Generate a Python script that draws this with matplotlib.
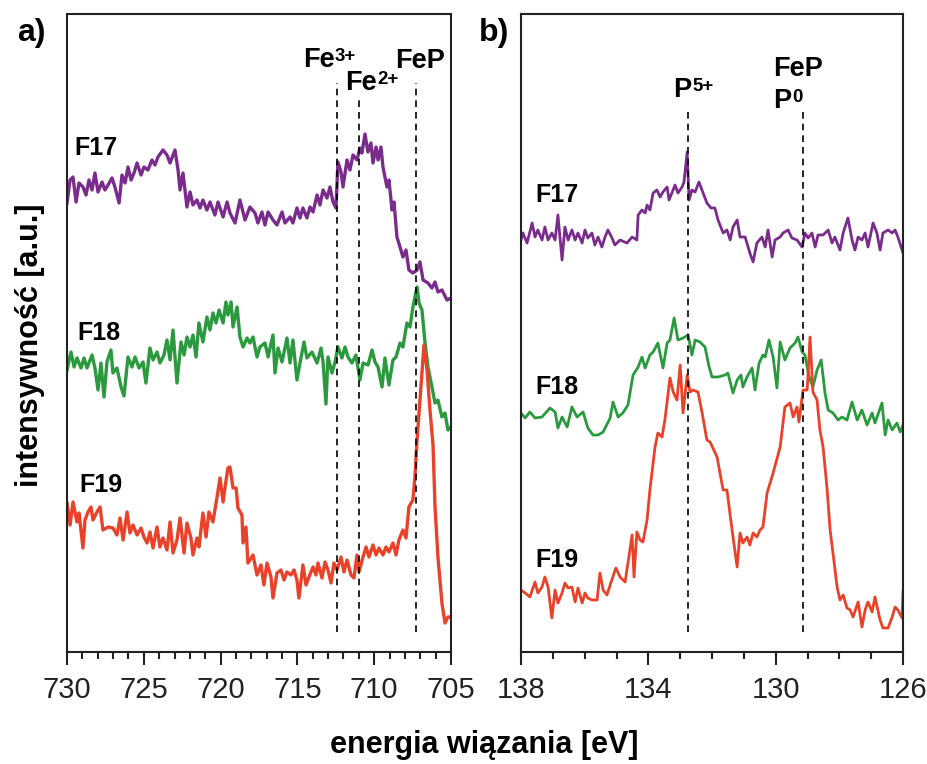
import matplotlib
matplotlib.use("Agg")
import matplotlib.pyplot as plt
from matplotlib.ticker import MultipleLocator, FixedLocator

plt.rcParams['font.family'] = ['Liberation Sans', 'DejaVu Sans']

# ---------------- Fe 2p region (panel a) ----------------
fe_f17_E = [730.00, 729.80, 729.61, 729.41, 729.22, 728.96, 728.76, 728.57, 728.37, 728.18, 727.98, 727.72,
            727.53, 727.33, 727.07, 726.88, 726.61, 726.42, 726.22, 726.03, 725.83, 725.64, 725.44, 725.18,
            724.99, 724.73, 724.47, 724.27, 724.08, 723.75, 723.49, 723.29, 722.97, 722.77, 722.64, 722.45,
            722.19, 721.99, 721.80, 721.54, 721.34, 721.15, 720.89, 720.69, 720.37, 720.17, 719.84, 719.58,
            719.39, 719.06, 718.74, 718.41, 718.09, 717.76, 717.57, 717.31, 717.11, 716.91, 716.59, 716.33,
            716.00, 715.81, 715.48, 715.29, 715.03, 714.83, 714.64, 714.38, 714.18, 713.98, 713.72, 713.53,
            713.33, 713.07, 712.88, 712.68, 712.49, 712.36, 712.16, 712.03, 711.77, 711.58, 711.38, 711.12,
            710.93, 710.80, 710.60, 710.41, 710.21, 710.08, 709.88, 709.75, 709.56, 709.43, 709.17, 709.04,
            708.84, 708.71, 708.52, 708.32, 708.13, 707.93, 707.74, 707.48, 707.21, 707.02, 706.82, 706.50,
            706.24, 706.04, 705.85, 705.59, 705.26, 705.00]
fe_f17_I = [449, 472, 475, 450, 469, 465, 457, 472, 462, 479, 460, 470,
            462, 467, 474, 465, 449, 477, 469, 485, 472, 479, 489, 477,
            485, 482, 492, 487, 495, 502, 497, 489, 502, 482, 462, 479,
            445, 460, 447, 452, 444, 452, 442, 450, 437, 450, 435, 450,
            439, 429, 452, 432, 445, 439, 429, 440, 427, 440, 432, 427,
            440, 429, 435, 429, 444, 434, 444, 434, 445, 440, 457, 447,
            462, 454, 465, 450, 444, 490, 480, 465, 492, 482, 497, 492,
            504, 499, 518, 500, 509, 489, 505, 492, 505, 485, 465, 472,
            442, 450, 415, 405, 395, 402, 382, 379, 382, 390, 372, 369,
            364, 370, 360, 362, 352, 354]

fe_f18_E = [730.00, 729.74, 729.54, 729.35, 729.09, 728.89, 728.70, 728.37, 728.18, 727.98, 727.79, 727.59,
            727.40, 727.14, 727.01, 726.75, 726.48, 726.29, 726.03, 725.77, 725.57, 725.31, 725.05, 724.86,
            724.60, 724.40, 724.14, 723.95, 723.69, 723.49, 723.29, 723.10, 722.84, 722.58, 722.38, 722.19,
            721.99, 721.80, 721.60, 721.41, 721.15, 720.89, 720.69, 720.50, 720.30, 720.10, 719.84, 719.65,
            719.52, 719.32, 719.19, 718.93, 718.74, 718.54, 718.28, 718.09, 717.89, 717.63, 717.44, 717.11,
            716.91, 716.59, 716.46, 716.26, 716.00, 715.68, 715.48, 715.29, 715.03, 714.83, 714.57, 714.38,
            714.05, 713.72, 713.46, 713.33, 713.14, 713.01, 712.75, 712.55, 712.36, 712.10, 711.90, 711.71,
            711.45, 711.19, 710.93, 710.73, 710.40, 710.14, 709.95, 709.75, 709.49, 709.30, 709.04, 708.78,
            708.58, 708.32, 708.13, 707.87, 707.67, 707.48, 707.21, 707.08, 706.89, 706.69, 706.50, 706.24,
            706.04, 705.85, 705.59, 705.39, 705.20, 705.00]
fe_f18_I = [282, 300, 285, 294, 284, 294, 284, 297, 284, 262, 289, 255,
            290, 302, 279, 284, 265, 256, 295, 285, 295, 284, 290, 269,
            304, 292, 300, 289, 297, 312, 292, 322, 269, 310, 297, 315,
            305, 317, 295, 329, 310, 335, 322, 339, 329, 342, 329, 350,
            337, 350, 325, 345, 315, 305, 314, 309, 315, 295, 305, 309,
            295, 317, 279, 304, 290, 314, 289, 312, 272, 289, 310, 294,
            300, 289, 304, 290, 248, 295, 279, 290, 305, 294, 305, 295,
            289, 297, 272, 289, 287, 302, 290, 285, 265, 294, 267, 292,
            295, 309, 305, 329, 325, 345, 365, 349, 342, 309, 285, 265,
            249, 252, 235, 239, 222, 225]

fe_f19_E = [730.00, 729.80, 729.61, 729.35, 729.22, 728.96, 728.83, 728.63, 728.44, 728.31, 728.05, 727.85,
            727.66, 727.33, 727.01, 726.75, 726.55, 726.35, 726.09, 725.90, 725.70, 725.44, 725.18, 724.99,
            724.79, 724.60, 724.40, 724.14, 723.95, 723.75, 723.49, 723.29, 723.10, 722.84, 722.64, 722.38,
            722.19, 721.93, 721.80, 721.54, 721.41, 721.15, 720.95, 720.76, 720.50, 720.24, 720.04, 719.84,
            719.71, 719.52, 719.39, 719.19, 718.99, 718.87, 718.61, 718.54, 718.35, 718.22, 717.89, 717.63,
            717.37, 717.18, 716.98, 716.72, 716.59, 716.33, 716.07, 715.87, 715.68, 715.42, 715.22, 715.03,
            714.90, 714.64, 714.44, 714.25, 713.98, 713.79, 713.66, 713.40, 713.20, 713.01, 712.81, 712.62,
            712.42, 712.16, 711.97, 711.77, 711.51, 711.32, 711.12, 710.99, 710.73, 710.53, 710.34, 710.08,
            709.88, 709.69, 709.43, 709.23, 709.04, 708.78, 708.58, 708.39, 708.13, 707.93, 707.74, 707.48,
            707.35, 707.21, 707.02, 706.76, 706.56, 706.37, 706.17, 706.04, 705.85, 705.59, 705.39, 705.20,
            705.00]
fe_f19_I = [149, 127, 150, 130, 139, 104, 132, 140, 145, 132, 140, 145,
            122, 125, 124, 117, 134, 112, 140, 119, 127, 117, 124, 115,
            109, 120, 104, 125, 105, 114, 102, 130, 99, 112, 134, 99,
            129, 114, 97, 114, 105, 139, 115, 140, 130, 154, 174, 150,
            165, 184, 185, 164, 164, 144, 137, 109, 125, 89, 97, 77,
            87, 67, 89, 75, 54, 79, 82, 72, 80, 77, 82, 72,
            54, 87, 67, 75, 85, 77, 89, 74, 90, 82, 69, 89,
            82, 95, 80, 92, 77, 74, 97, 80, 95, 105, 95, 107,
            97, 104, 97, 105, 100, 109, 97, 112, 122, 114, 145, 152,
            175, 212, 252, 307, 282, 242, 207, 145, 95, 49, 29, 35,
            35]

# ---------------- P 2p region (panel b) ----------------
p_f17_E = [138.00, 137.94, 137.81, 137.65, 137.56, 137.47, 137.34, 137.25, 137.15, 137.03, 136.93, 136.84,
           136.71, 136.62, 136.52, 136.40, 136.30, 136.21, 136.08, 135.99, 135.90, 135.77, 135.68, 135.58,
           135.46, 135.36, 135.27, 135.14, 135.05, 134.89, 134.67, 134.51, 134.36, 134.32, 134.20, 134.10,
           134.04, 133.95, 133.85, 133.73, 133.63, 133.54, 133.41, 133.35, 133.26, 133.16, 133.07, 132.94,
           132.88, 132.78, 132.72, 132.63, 132.53, 132.41, 132.28, 132.16, 132.03, 131.91, 131.81, 131.65,
           131.53, 131.43, 131.34, 131.21, 131.12, 130.96, 130.81, 130.71, 130.59, 130.43, 130.33, 130.24,
           130.11, 130.02, 129.86, 129.77, 129.61, 129.49, 129.33, 129.17, 129.08, 128.98, 128.86, 128.76,
           128.67, 128.51, 128.35, 128.23, 128.14, 127.98, 127.88, 127.73, 127.60, 127.51, 127.41, 127.29,
           127.19, 127.10, 126.94, 126.82, 126.72, 126.63, 126.47, 126.34, 126.25, 126.16, 126.00]
p_f17_I = [412, 419, 409, 429, 415, 422, 412, 425, 412, 419, 412, 437,
           392, 425, 412, 422, 412, 419, 409, 422, 414, 419, 407, 415,
           405, 415, 422, 414, 407, 412, 409, 415, 412, 437, 442, 439,
           447, 442, 459, 462, 455, 460, 465, 452, 459, 467, 459, 465,
           470, 500, 452, 462, 460, 470, 459, 449, 444, 444, 432, 419,
           422, 412, 425, 432, 415, 415, 399, 390, 409, 415, 405, 422,
           395, 412, 415, 419, 422, 414, 412, 405, 419, 414, 419, 405,
           417, 417, 422, 409, 415, 402, 419, 434, 412, 402, 415, 412,
           419, 405, 429, 419, 402, 419, 422, 419, 422, 415, 399]

p_f18_E = [138.00, 137.87, 137.72, 137.56, 137.34, 137.09, 136.93, 136.84, 136.71, 136.55, 136.40, 136.24,
           136.05, 135.90, 135.74, 135.58, 135.42, 135.20, 135.11, 134.95, 134.80, 134.64, 134.48, 134.32,
           134.20, 134.10, 133.95, 133.85, 133.70, 133.54, 133.41, 133.32, 133.19, 133.07, 132.91, 132.75,
           132.63, 132.53, 132.38, 132.22, 132.09, 132.00, 131.81, 131.59, 131.50, 131.34, 131.21, 131.09,
           131.03, 130.90, 130.74, 130.65, 130.52, 130.40, 130.33, 130.21, 130.08, 129.96, 129.86, 129.71,
           129.55, 129.39, 129.30, 129.17, 129.08, 128.95, 128.83, 128.70, 128.57, 128.45, 128.35, 128.20,
           128.04, 127.92, 127.76, 127.60, 127.44, 127.29, 127.13, 126.97, 126.88, 126.66, 126.56, 126.47,
           126.34, 126.19, 126.09, 126.00]
p_f18_I = [239, 234, 240, 234, 235, 244, 240, 224, 235, 225, 245, 235,
           240, 224, 217, 217, 220, 234, 250, 235, 239, 247, 277, 285,
           295, 284, 297, 300, 309, 284, 309, 312, 334, 312, 314, 317,
           297, 312, 310, 305, 285, 275, 275, 277, 279, 259, 272, 277,
           265, 275, 284, 262, 289, 297, 295, 312, 295, 264, 310, 292,
           304, 309, 315, 300, 297, 275, 265, 282, 292, 259, 242, 239,
           232, 235, 232, 250, 232, 242, 227, 239, 229, 249, 217, 232,
           222, 229, 220, 227]

p_f19_E = [138.00, 137.87, 137.72, 137.56, 137.47, 137.34, 137.25, 137.15, 137.03, 136.93, 136.84, 136.71,
           136.62, 136.52, 136.40, 136.30, 136.21, 136.08, 135.99, 135.90, 135.77, 135.61, 135.52, 135.42,
           135.30, 135.20, 135.02, 134.89, 134.73, 134.64, 134.51, 134.45, 134.36, 134.26, 134.17, 134.04,
           133.95, 133.79, 133.70, 133.57, 133.48, 133.32, 133.22, 133.10, 133.00, 132.91, 132.78, 132.69,
           132.60, 132.44, 132.31, 132.16, 132.06, 131.84, 131.75, 131.65, 131.53, 131.43, 131.34, 131.21,
           131.12, 131.03, 130.90, 130.81, 130.71, 130.59, 130.49, 130.40, 130.27, 130.08, 129.86, 129.71,
           129.55, 129.45, 129.33, 129.27, 129.14, 129.01, 128.92, 128.83, 128.70, 128.61, 128.51, 128.39,
           128.29, 128.20, 128.07, 127.98, 127.88, 127.76, 127.66, 127.57, 127.41, 127.29, 127.19, 127.10,
           126.97, 126.88, 126.72, 126.63, 126.47, 126.34, 126.25, 126.16, 126.03, 126.00]
p_f19_I = [62, 59, 55, 70, 59, 65, 75, 65, 34, 62, 49, 59,
           69, 64, 65, 50, 64, 49, 59, 54, 52, 52, 79, 62,
           57, 67, 84, 75, 70, 89, 117, 75, 120, 112, 110, 132,
           162, 205, 219, 215, 232, 274, 260, 252, 287, 239, 277, 260,
           262, 260, 239, 212, 210, 195, 179, 162, 162, 137, 115, 85,
           119, 109, 115, 107, 119, 115, 122, 125, 159, 179, 205, 245,
           249, 235, 245, 230, 262, 262, 315, 260, 252, 222, 205, 165,
           122, 99, 65, 52, 57, 44, 42, 35, 50, 25, 42, 50,
           40, 55, 32, 24, 24, 35, 45, 42, 34, 60]

sample_names = ['F17', 'F18', 'F19']
colors = ['#7a2c8c', '#2b9a3e', '#ea4129']

fe_peak_E = [712.4, 711.0, 707.3]
p_peak_E = [132.75, 129.15]
b_ticks = [138, 134, 130, 126]

W, H = 928, 764
fig = plt.figure(figsize=(W / 100, H / 100), dpi=100)


def fx(px):
    return px / W


def fy(py):
    return 1 - py / H


def sup_label(ax, x, y, base, sup):
    t = ax.text(x, y, base, fontsize=19.5, fontweight='bold', ha='left', va='baseline')
    if sup:
        ax.annotate(sup, xy=(1, 1), xycoords=t, xytext=(0.5, -1.0), textcoords='offset points',
                    fontsize=13.5, fontweight='bold', ha='left', va='top')
    return t


axA = fig.add_axes([fx(67), fy(652), fx(451) - fx(67), fy(14) - fy(652)])
axB = fig.add_axes([fx(521), fy(652), fx(903) - fx(521), fy(14) - fy(652)])

lbl_kw = dict(fontsize=18, fontweight='bold', ha='left', va='center')

# panel a
for E, I, c in [(fe_f17_E, fe_f17_I, colors[0]), (fe_f18_E, fe_f18_I, colors[1]),
                (fe_f19_E, fe_f19_I, colors[2])]:
    axA.plot(E, I, color=c, lw=2.4, solid_joinstyle='round')
axA.text(729.5, 504, sample_names[0], **lbl_kw)
axA.text(729.35, 319, sample_names[1], **lbl_kw)
axA.text(729.2, 167, sample_names[2], **lbl_kw)
tops_a = [569, 554, 569]
for E, top in zip(fe_peak_E, tops_a):
    axA.plot([E, E], [20, top], color='black', lw=1.2, ls=(0, (4, 3)))
sup_label(axA, 714.65, 585, 'Fe', '3+')
sup_label(axA, 711.9, 562, 'Fe', '2+')
sup_label(axA, 708.65, 584, 'FeP', None)
axA.set_xlim(730, 705)
axA.xaxis.set_major_locator(MultipleLocator(5))
axA.xaxis.set_minor_locator(MultipleLocator(1))

# panel b
for E, I, c in [(p_f17_E, p_f17_I, colors[0]), (p_f18_E, p_f18_I, colors[1]), (p_f19_E, p_f19_I, colors[2])]:
    axB.plot(E, I, color=c, lw=2.0, solid_joinstyle='round')
axB.text(137.56, 457, sample_names[0], **lbl_kw)
axB.text(137.56, 265, sample_names[1], **lbl_kw)
axB.text(137.56, 92, sample_names[2], **lbl_kw)
for E in p_peak_E:
    axB.plot([E, E], [20, 544], color='black', lw=1.2, ls=(0, (4, 3)))
sup_label(axB, 133.22, 555, 'P', '5+')
sup_label(axB, 130.08, 576, 'FeP', None)
sup_label(axB, 130.08, 544, 'P', '0')
axB.set_xlim(138, 126)
axB.xaxis.set_major_locator(FixedLocator(b_ticks))
axB.xaxis.set_minor_locator(MultipleLocator(1))

for ax in (axA, axB):
    ax.set_ylim(0, 638)
    ax.set_yticks([])
    for s in ax.spines.values():
        s.set_linewidth(1.5)
        s.set_color('#222222')
    ax.tick_params(axis='x', which='major', direction='out', length=9, width=1.5, labelsize=21,
                   pad=8, colors='#222222')
    ax.tick_params(axis='x', which='minor', direction='out', length=5, width=1.5, colors='#222222')

fig.text(fx(484), fy(745), 'energia wiązania [eV]', fontsize=22, fontweight='bold', ha='center', va='center')
fig.text(fx(30), fy(345), 'intensywność [a.u.]', fontsize=22, fontweight='bold', ha='center', va='center',
         rotation=90)
fig.text(fx(17), fy(41), 'a)', fontsize=23, fontweight='bold', ha='left', va='baseline')
fig.text(fx(479), fy(41), 'b)', fontsize=23, fontweight='bold', ha='left', va='baseline')

fig.savefig('out.png', dpi=100)
